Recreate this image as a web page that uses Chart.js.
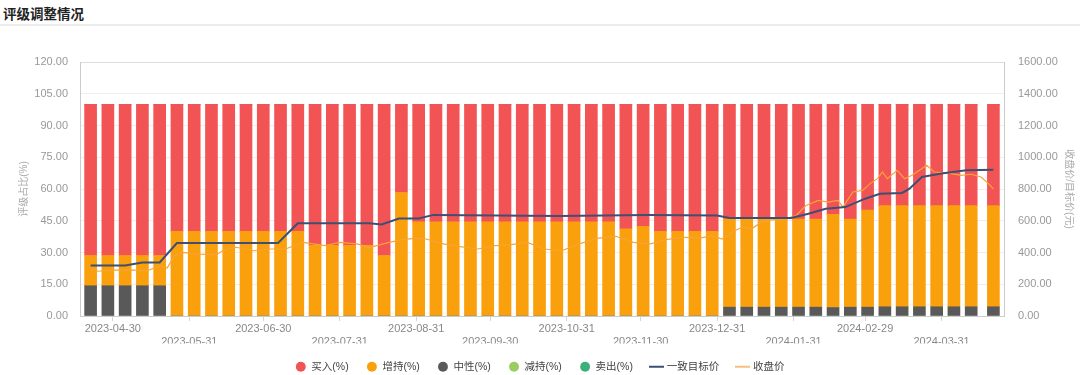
<!DOCTYPE html>
<html>
<head>
<meta charset="utf-8">
<script src="https://cdn.jsdelivr.net/npm/chart.js@4.4.1/dist/chart.umd.min.js"></script>
<style>
  html, body { margin: 0; padding: 0; width: 1080px; height: 375px; overflow: hidden; background: #fff; }
  .title { position: absolute; left: 3px; top: 3px; font: bold 13.5px "Noto Sans CJK SC", sans-serif; color: #222; }
  .sep   { position: absolute; left: 0; top: 24px; width: 1080px; height: 2px; background: #ececec; }
  .wrap  { position: absolute; left: 0; top: 27px; width: 1080px; height: 355px; }
</style>
</head>
<body>
<div class="title">评级调整情况</div>
<div class="sep"></div>
<div class="wrap"><canvas id="chart"></canvas></div>

<script>
/* ── Data ── */
const BAR_DATES = [
  "2023-04-21","2023-04-28","2023-05-05","2023-05-12","2023-05-19","2023-05-26","2023-06-02","2023-06-09",
  "2023-06-16","2023-06-23","2023-06-30","2023-07-07","2023-07-14","2023-07-21","2023-07-28","2023-08-04",
  "2023-08-11","2023-08-18","2023-08-25","2023-09-01","2023-09-08","2023-09-15","2023-09-22","2023-09-29",
  "2023-10-06","2023-10-13","2023-10-20","2023-10-27","2023-11-03","2023-11-10","2023-11-17","2023-11-24",
  "2023-12-01","2023-12-08","2023-12-15","2023-12-22","2023-12-29","2024-01-05","2024-01-12","2024-01-19",
  "2024-01-26","2024-02-02","2024-02-09","2024-02-16","2024-02-23","2024-03-01","2024-03-08","2024-03-15",
  "2024-03-22","2024-03-29","2024-04-05","2024-04-12","2024-04-21"
];
const BUY = [
  71.43,71.43,71.43,71.43,71.43, 60,60,60,60,60,60,60,60, 66.67,66.67,66.67,66.67, 71.43, 41.67,
  55.56,55.56,55.56,55.56,55.56,55.56,55.56,55.56,55.56,55.56,55.56,55.56, 58.82, 57.58, 60,60,60,60,
  54.17,54.17,54.17,54.17,54.17,54.17, 52, 54.17, 50, 47.83,47.83,47.83,47.83,47.83,47.83,47.83
];
const ADD = [
  14.29,14.29,14.29,14.29,14.29, 40,40,40,40,40,40,40,40, 33.33,33.33,33.33,33.33, 28.57, 58.33,
  44.44,44.44,44.44,44.44,44.44,44.44,44.44,44.44,44.44,44.44,44.44,44.44, 41.18, 42.42, 40,40,40,40,
  41.67,41.67,41.67,41.67,41.67,41.67, 44, 41.67, 45.83, 47.83,47.83,47.83,47.83,47.83,47.83,47.83
];
const NEUTRAL = [
  14.29,14.29,14.29,14.29,14.29, 0,0,0,0,0,0,0,0, 0,0,0,0, 0, 0,
  0,0,0,0,0,0,0,0,0,0,0,0, 0, 0, 0,0,0,0,
  4.17,4.17,4.17,4.17,4.17,4.17, 4, 4.17, 4.17, 4.35,4.35,4.35,4.35,4.35,4.35,4.35
];
const REDUCE = BAR_DATES.map(() => 0);
const SELL   = BAR_DATES.map(() => 0);

const TARGET_DATES = [
  "2023-04-21","2023-05-05","2023-05-12","2023-05-19","2023-05-26","2023-07-06","2023-07-14","2023-08-12",
  "2023-08-17","2023-08-24","2023-09-01","2023-09-07","2023-10-28","2023-12-03","2023-12-31","2024-01-05",
  "2024-01-30","2024-02-06","2024-02-13","2024-02-21","2024-02-29","2024-03-06","2024-03-15","2024-03-18",
  "2024-03-23","2024-03-31","2024-04-10","2024-04-21"
];
const TARGET = [
  318,318,337,337,460,460,584,584, 576,614,614,637,630,637,633,618,
  618,644,675,686,739,770,775,802, 876,897,918,922
];

const CLOSE_DATES = [
  "2023-04-21","2023-04-24","2023-04-30","2023-05-07","2023-05-14","2023-05-19","2023-05-22","2023-05-25",
  "2023-05-28","2023-06-04","2023-06-11","2023-06-14","2023-06-19","2023-06-26","2023-07-03","2023-07-09",
  "2023-07-16","2023-07-19","2023-07-25","2023-07-31","2023-08-07","2023-08-12","2023-08-15","2023-08-20",
  "2023-08-25","2023-08-31","2023-09-04","2023-09-11","2023-09-17","2023-09-25","2023-10-02","2023-10-07",
  "2023-10-15","2023-10-22","2023-10-29","2023-11-05","2023-11-13","2023-11-20","2023-11-27","2023-12-04",
  "2023-12-10","2023-12-18","2023-12-24","2023-12-29","2024-01-02","2024-01-06","2024-01-10","2024-01-14",
  "2024-01-18","2024-01-22","2024-01-28","2024-02-01","2024-02-05","2024-02-10","2024-02-14","2024-02-18",
  "2024-02-20","2024-02-24","2024-02-28","2024-03-02","2024-03-05","2024-03-07","2024-03-09","2024-03-13",
  "2024-03-16","2024-03-19","2024-03-25","2024-03-28","2024-04-02","2024-04-08","2024-04-12","2024-04-16",
  "2024-04-19","2024-04-21"
];
const CLOSE = [
  300,282,289,290,285,316,302,380, 401,390,386,416,433,411,422,422,
  464,458,443,464,454,433,443,464, 479,490,485,454,439,422,443,447,
  464,422,411,454,490,502,464,454, 481,496,490,506,485,527,559,549,
  591,606,612,633,696,728,717,728, 686,781,791,834,865,907,865,918,
  865,886,950,907,901,886,893,876, 834,800
];

const X_TICKS = [
  "2023-04-30","2023-05-31","2023-06-30","2023-07-31","2023-08-31","2023-09-30",
  "2023-10-31","2023-11-30","2023-12-31","2024-01-31","2024-02-29","2024-03-31"
];
const LEGEND_ORDER = ["买入(%)","增持(%)","中性(%)","减持(%)","卖出(%)","一致目标价","收盘价"];

/* ── Helpers ── */
const DAY0  = Date.parse("2023-04-30");
const dayOf = s => (Date.parse(s) - DAY0) / 864e5;
const pts   = (dates, vals) => dates.map((d, i) => ({ x: dayOf(d), y: vals[i] }));

function lineIcon(color, w) {
  const c = document.createElement("canvas");
  c.width = 15; c.height = 4;
  const g = c.getContext("2d");
  g.strokeStyle = color; g.lineWidth = w;
  g.beginPath(); g.moveTo(0, 2); g.lineTo(15, 2); g.stroke();
  return c;
}

const bar = (label, vals, color) => ({
  type: "bar", label, data: pts(BAR_DATES, vals),
  backgroundColor: color, borderWidth: 0, barThickness: 12,
  pointStyle: "circle", yAxisID: "y",
});

Chart.defaults.font.family = '"Liberation Sans", "Noto Sans CJK SC", sans-serif';

/* ── Chart ── */
new Chart(document.getElementById("chart"), {
  type: "bar",
  data: {
    datasets: [
      { type: "line", label: "一致目标价", data: pts(TARGET_DATES, TARGET), yAxisID: "y1",
        borderColor: "#3e4f73", borderWidth: 2, pointRadius: 0, tension: 0,
        pointStyle: lineIcon("#3e4f73", 2) },
      { type: "line", label: "收盘价", data: pts(CLOSE_DATES, CLOSE), yAxisID: "y1",
        borderColor: "#f7a33a", borderWidth: 1.2, pointRadius: 0, tension: 0,
        pointStyle: lineIcon("#f4c07e", 2) },
      bar("中性(%)", NEUTRAL, "#595959"),
      bar("增持(%)", ADD,     "#f9a00c"),
      bar("买入(%)", BUY,     "#f25456"),
      bar("减持(%)", REDUCE,  "#9acd5f"),
      bar("卖出(%)", SELL,    "#3cb07a"),
    ]
  },
  options: {
    responsive: true,
    maintainAspectRatio: false,
    animation: false,
    devicePixelRatio: 1,
    layout: { padding: { top: 35, left: 0, right: 0, bottom: 0 } },
    plugins: {
      tooltip: { enabled: false },
      legend: {
        position: "bottom",
        labels: {
          usePointStyle: true, boxWidth: 11, boxHeight: 7, padding: 18,
          color: "#444", font: { size: 10.5 },
          sort: (a, b) => LEGEND_ORDER.indexOf(a.text) - LEGEND_ORDER.indexOf(b.text)
        }
      }
    },
    scales: {
      x: {
        type: "linear", min: -13.3, max: 361.3, offset: false, stacked: true,
        grid: { drawOnChartArea: false, drawTicks: true, tickLength: 5, color: "#d4d4d4", offset: false },
        border: { color: "#cccccc" },
        afterBuildTicks: s => { s.ticks = X_TICKS.map(d => ({ value: dayOf(d) })); },
        afterFit: s => { s.height = 27.5; },
        ticks: {
          autoSkip: false, maxRotation: 0, minRotation: 0, padding: 1,
          color: "#888", font: { size: 11 },
          callback: (v, i) => i % 2 ? ["", X_TICKS[i]] : X_TICKS[i]
        }
      },
      y: {
        position: "left", min: 0, max: 120, stacked: true,
        grid: { drawTicks: false, color: c => c.tick && c.tick.value === 120 ? "#dcdcdc" : "#eeeeee" },
        border: { color: "#cccccc" },
        afterFit: s => { s.width = 80; },
        ticks: { stepSize: 15, padding: 12, color: "#999", font: { size: 11 }, callback: v => v.toFixed(2) },
        title: { display: true, text: "评级占比(%)", color: "#aaa", font: { size: 10 }, padding: { top: 18, bottom: 0 } }
      },
      y1: {
        position: "right", min: 0, max: 1600,
        grid: { drawOnChartArea: false, drawTicks: false },
        border: { color: "#cccccc" },
        afterFit: s => { s.width = 76; },
        ticks: { stepSize: 200, padding: 14, color: "#999", font: { size: 11 }, callback: v => v.toFixed(2) },
        title: { display: true, text: "收盘价/目标价(元)", color: "#aaa", font: { size: 10 }, padding: { top: 5, bottom: 0 } }
      }
    }
  }
});
</script>
</body>
</html>
